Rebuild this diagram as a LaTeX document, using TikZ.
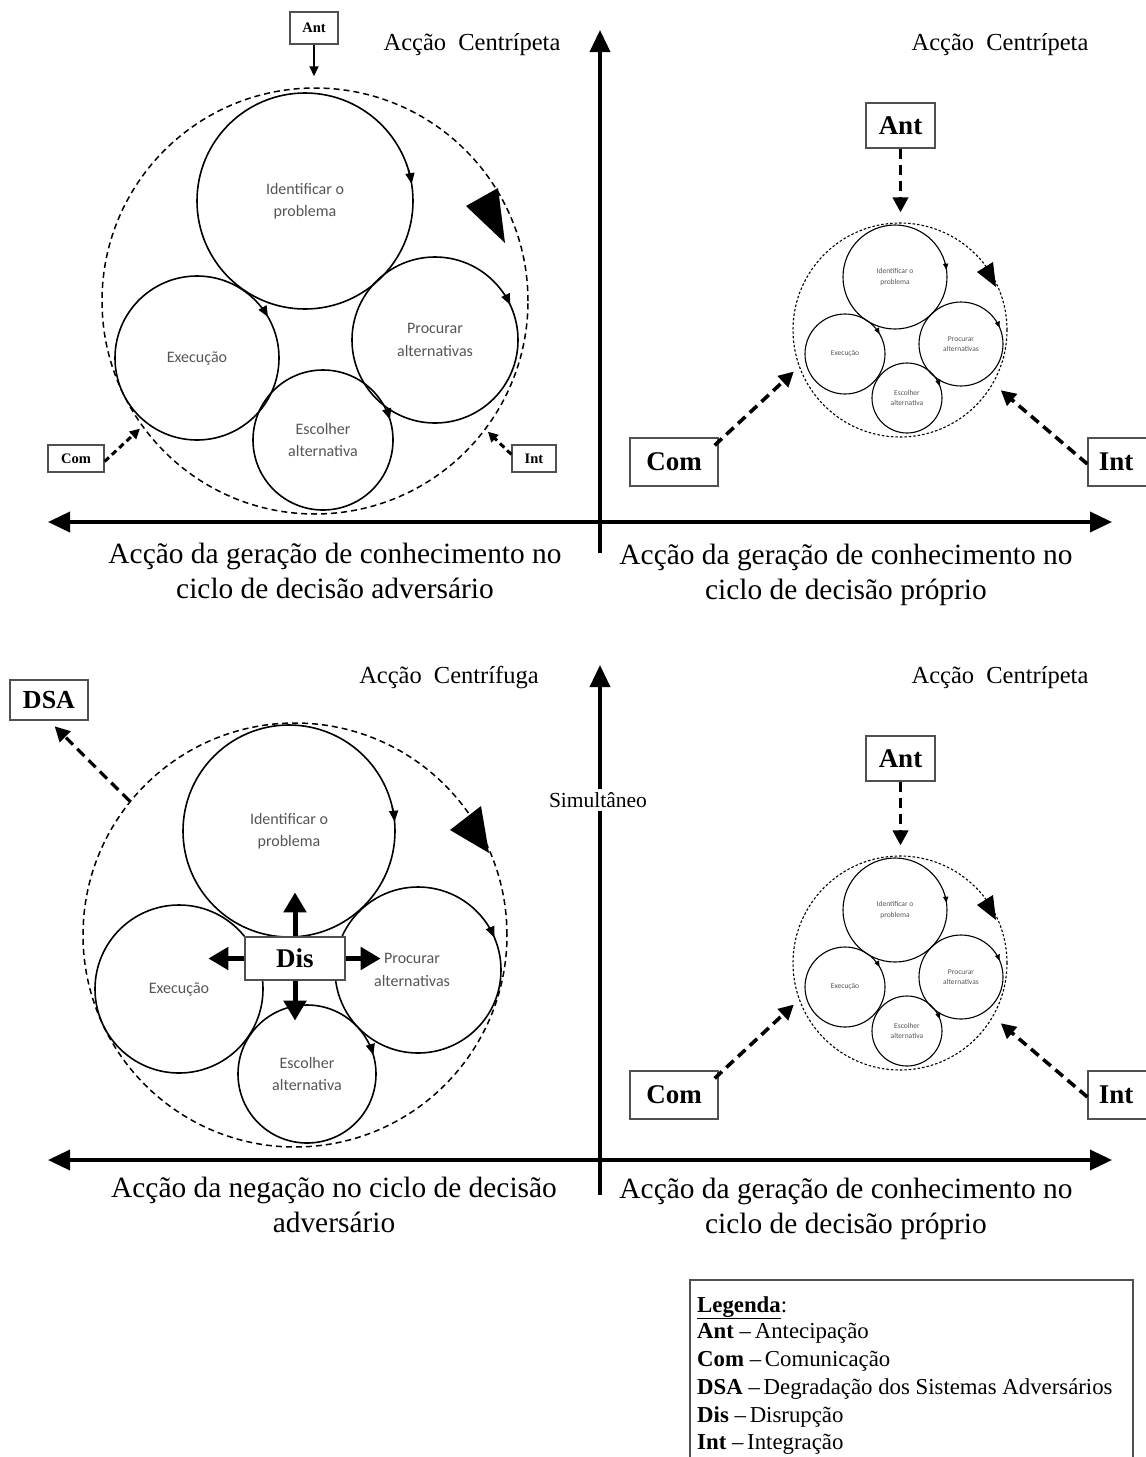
\documentclass[tikz,border=0pt]{standalone}
\usepackage{fontspec}
\setmainfont{Liberation Serif}
\newfontfamily\calibfont{Carlito}
\usetikzlibrary{arrows.meta,calc}

\newcommand\fsz[2]{\fontsize{#1}{#2}\selectfont}
\definecolor{txtgray}{HTML}{555555}
\definecolor{boxgray}{HTML}{505050}

\tikzset{
  axisline/.style={line width=3.6pt},
  outerc/.style={circle, draw, dash pattern=on 6pt off 4pt, line width=1.5pt, inner sep=0pt},
  outers/.style={circle, draw, dash pattern=on 2.5pt off 2pt, line width=1.1pt, inner sep=0pt},
  innerc/.style={circle, draw, line width=1.6pt, inner sep=0pt, align=center, text=txtgray,
                 font=\calibfont\fsz{16}{22.5}},
  inners/.style={circle, draw, line width=1.1pt, inner sep=0pt, align=center, text=txtgray,
                 font=\calibfont\fsz{7.5}{10.5}},
  bigbox/.style={draw=boxgray, line width=1.3pt, fill=white, inner sep=0pt,
                 font=\bfseries\fsz{27}{30}},
  smallbox/.style={draw=boxgray, line width=1.1pt, fill=white, inner sep=0pt,
                 font=\bfseries\fsz{14.5}{16}},
  headtxt/.style={font=\fsz{24.5}{28}},
  axistxt/.style={font=\fsz{29.4}{35}, align=center},
  legtxt/.style={font=\fsz{22.8}{27.5}, anchor=base west, inner sep=0pt},
  thickdash/.style={line width=3.6pt, dash pattern=on 10pt off 6pt,
                    -{Triangle[length=15pt,width=15pt]}},
  thindash/.style={line width=3pt, dash pattern=on 6pt off 4pt,
                   -{Triangle[length=10pt,width=10pt]}},
  bigtip/.style={line width=1.6pt, -{Triangle[length=11pt,width=9pt]}},
  smalltip/.style={line width=1.1pt, -{Triangle[length=6pt,width=5pt]}},
  disarrow/.style={line width=5pt, -{Triangle[length=20pt,width=22pt]}},
}

% short clockwise arc ending in an arrow tip on a circle
% #1 node, #2 radius, #3 angle, #4 style
\newcommand\cwtip[4]{%
  \draw[#4] ([shift={(#3+8:#2)}]#1.center) arc[start angle=#3+8, end angle=#3, radius=#2];
}

% reduced decision cycle with its three incoming actions
% #1 name suffix, #2 vertical offset
\newcommand\smallcycle[2]{%
\begin{scope}[yshift=-#2pt]
  \node[outers, minimum size=214pt] (outer#1) at (900,-330) {};
  \node[inners, minimum size=104pt] (ident#1) at (895,-277) {Identificar o\\problema};
  \node[inners, minimum size=84pt] (proc#1) at (961,-344) {Procurar\\alternativas};
  \node[inners, minimum size=80pt] (exec#1) at (845,-354) {Execução};
  \node[inners, minimum size=70pt] (esc#1) at (907,-398) {Escolher\\alternativa};
  \cwtip{ident#1}{52pt}{8}{smalltip}
  \cwtip{exec#1}{40pt}{30}{smalltip}
  \cwtip{proc#1}{42pt}{23}{smalltip}
  \cwtip{esc#1}{35pt}{20}{smalltip}
  \fill (977,-272) -- (993,-262) -- (996,-287) -- cycle;
  \node[bigbox, minimum width=69pt, minimum height=45pt] (ant#1) at (900.5,-125.5) {Ant};
  \node[bigbox, minimum width=88pt, minimum height=48pt] (com#1) at (674,-462) {Com};
  \node[bigbox, minimum width=62pt, minimum height=48pt] (int#1) at (1119,-462) {\hspace*{-6pt}Int};
  \draw[thickdash, shorten >=10pt] (ant#1.south) -- (ant#1.south |- outer#1.north);
  \draw[thickdash, shorten >=7pt] ([xshift=-4pt,yshift=-8pt]com#1.north east) -- (outer#1.200);
  \draw[thickdash, shorten >=10pt] ([yshift=-2pt]int#1.west) -- (outer#1.330);
\end{scope}}

\begin{document}
\begin{tikzpicture}[x=1pt,y=1pt]
\path[use as bounding box, clip] (0,0) rectangle (1146,-1457);
\fill[white] (0,0) rectangle (1146,-1457);

% ---------------- axes ----------------
\draw[axisline, {Triangle[length=22pt,width=20pt]}-{Triangle[length=22pt,width=20pt]}]
  (48,-522) -- (1112,-522);
\draw[axisline, -{Triangle[length=22pt,width=20pt]}] (600,-553) -- (600,-30);
\draw[axisline, {Triangle[length=22pt,width=20pt]}-{Triangle[length=22pt,width=20pt]}]
  (48,-1160) -- (1112,-1160);
\draw[axisline, -{Triangle[length=22pt,width=20pt]}] (600,-1195) -- (600,-665);
\node[fill=white, font=\fsz{21.5}{24}, inner sep=3pt] (simul) at (598,-800) {Simultâneo};

% ---------------- headings and axis labels ----------------
\node[headtxt] (hA) at (472,-45) {Acção\hspace{6pt} Centrípeta};
\node[headtxt] (hB) at (1000,-45) {Acção\hspace{6pt} Centrípeta};
\node[headtxt] (hC) at (449,-678) {Acção\hspace{6pt} Centrífuga};
\node[headtxt] (hD) at (1000,-678) {Acção\hspace{6pt} Centrípeta};

\node[axistxt] (lA) at (335,-571) {Acção da geração de conhecimento no\\ciclo de decisão adversário};
\node[axistxt] (lB) at (846,-575) {Acção da geração de conhecimento no\\ciclo de decisão próprio};
\node[axistxt] (lC) at (334,-1205) {Acção da negação no ciclo de decisão\\adversário};
\node[axistxt] (lD) at (846,-1209) {Acção da geração de conhecimento no\\ciclo de decisão próprio};

% ---------------- adversary cycle, knowledge action ----------------
\node[outerc, minimum size=426pt] (outerA) at (315,-301) {};
\node[innerc, minimum size=216pt] (identA) at (305,-201) {Identificar o\\problema};
\node[innerc, minimum size=166pt] (procA) at (435,-340) {Procurar\\alternativas};
\node[innerc, minimum size=164pt] (execA) at (197,-358) {Execução};
\node[innerc, minimum size=140pt] (escA) at (323,-440) {Escolher\\alternativa};
\cwtip{identA}{108pt}{9}{bigtip}
\cwtip{execA}{82pt}{30}{bigtip}
\cwtip{procA}{83pt}{25}{bigtip}
\cwtip{escA}{70pt}{17}{bigtip}
\fill (466,-206) -- (498,-188) -- (505,-243) -- cycle;

\node[smallbox, minimum width=48pt, minimum height=32pt] (antA) at (314,-28) {Ant};
\node[smallbox, minimum width=56pt, minimum height=27pt] (comA) at (76,-458.5) {Com};
\node[smallbox, minimum width=44pt, minimum height=27pt] (intA) at (534,-458.5) {Int};
\draw[line width=2pt, -{Triangle[length=10pt,width=9pt]}, shorten >=11pt]
  (antA.south) -- (antA.south |- outerA.north);
\draw[thindash, shorten >=3pt] ([yshift=-3pt]comA.east) -- (outerA.216);
\draw[thindash, shorten >=3pt] ([yshift=4pt]intA.west) -- (outerA.323);

% ---------------- own cycles ----------------
\smallcycle{B}{0}
\smallcycle{D}{633}

% ---------------- adversary cycle, negation action ----------------
\node[outerc, minimum size=424pt] (outerC) at (295,-935) {};
\node[innerc, minimum size=212pt] (identC) at (289,-831) {Identificar o\\problema};
\node[innerc, minimum size=166pt] (procC) at (418,-970) {\hspace*{-12pt}Procurar\\\hspace*{-12pt}alternativas};
\node[innerc, minimum size=168pt] (execC) at (179,-989) {Execução};
\node[innerc, minimum size=138pt] (escC) at (307,-1074) {Escolher\\alternativa};
\cwtip{identC}{106pt}{5}{bigtip}
\cwtip{procC}{83pt}{23}{bigtip}
\cwtip{escC}{69pt}{16}{bigtip}
\fill (450,-830) -- (481,-806) -- (489,-853) -- cycle;

\node[bigbox, minimum width=100pt, minimum height=43pt] (dis) at (295,-958.5) {Dis};
\draw[disarrow] (dis.north) -- ++(0,44);
\draw[disarrow] (dis.south) -- ++(0,-40);
\draw[disarrow] (dis.west) -- ++(-36,0);
\draw[disarrow] (dis.east) -- ++(35,0);

\node[bigbox, font=\bfseries\fsz{26}{30}, minimum width=78pt, minimum height=40pt] (dsa) at (49,-700) {DSA};
\draw[thickdash, line width=3.2pt, shorten >=8pt] (outerC.141) -- (dsa.south);

% ---------------- legend ----------------
\draw[boxgray, line width=1.2pt] (690,-1280) rectangle (1133,-1475);
\node[legtxt] (leg0) at (697,-1312) {\textbf{\underline{Legenda}}:};
\node[legtxt] (leg1) at (697,-1338) {\textbf{Ant} –\,Antecipação};
\node[legtxt] (leg2) at (697,-1366) {\textbf{Com} –\,Comunicação};
\node[legtxt] (leg3) at (697,-1394) {\textbf{DSA} –\,Degradação dos Sistemas Adversários};
\node[legtxt] (leg4) at (697,-1422) {\textbf{Dis} –\,Disrupção};
\node[legtxt] (leg5) at (697,-1449) {\textbf{Int} –\,Integração};
\end{tikzpicture}
\end{document}
